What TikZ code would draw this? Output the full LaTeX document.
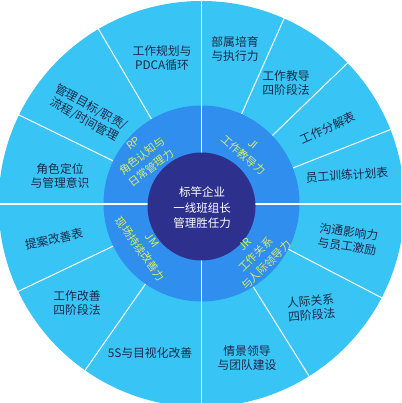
\documentclass[tikz,border=0pt]{standalone}
\usepackage{fontspec}
\setmainfont{Noto Sans CJK SC}
\definecolor{outerc}{RGB}{56,197,245}
\definecolor{midc}{RGB}{48,142,238}
\definecolor{darkc}{RGB}{46,48,142}
\definecolor{yel}{RGB}{214,240,92}
\definecolor{navy}{RGB}{28,40,70}
\begin{document}
\begin{tikzpicture}[x=1pt,y=1pt,
  outertext/.style={text=navy, font=\fontsize{11.8}{14.5}\selectfont, align=center, inner sep=0pt},
  ringtext/.style={text=yel, font=\fontsize{10.8}{15}\selectfont, align=center, inner sep=0pt},
  centertext/.style={text=white, font=\fontsize{11.5}{15.5}\selectfont, align=center, inner sep=0pt},
  divider/.style={draw=white, line width=1pt},
  quadline/.style={draw=white, line width=1.5pt}]
\useasboundingbox (0,0) rectangle (401,403);
\coordinate (C) at (201.5,199);
\begin{scope}
\clip (0,0) rectangle (401,403);
\fill[outerc] (C) circle (203);
\foreach \a in {21.5,44,66,120.5,154,205.5,235,302,332.5}
  \draw[divider] (C) -- ++(\a:210);
\fill[midc] (201.5,199.5) circle (98);
\foreach \a in {0,90,180,270}
  \draw[quadline] (C) -- ++(\a:210);
\fill[darkc] (201.5,196.5) circle (54);
\end{scope}
% outer ring texts
\node[outertext] (o1) at (162,345) {工作规划与\\PDCA循环};
\node[outertext, rotate=-29] (o2) at (88,289.5) {管理目标/职责/\\流程/时间管理};
\node[outertext] (o3) at (60,227) {角色定位\\与管理意识};
\node[outertext] (o4) at (235,354) {部属培育\\与执行力};
\node[outertext] (o5) at (286,320) {工作教导\\四阶段法};
\node[outertext, rotate=24] (o6) at (328,275) {工作分解表};
\node[outertext, rotate=4] (o7) at (347,228) {员工训练计划表};
\node[outertext, rotate=12] (o8) at (54,164) {提案改善表};
\node[outertext] (o9) at (77,100) {工作改善\\四阶段法};
\node[outertext] (o10) at (150,50) {5S与目视化改善};
\node[outertext] (o11) at (247,45) {情景领导\\与团队建设};
\node[outertext, rotate=5] (o12) at (311,95) {人际关系\\四阶段法};
\node[outertext, rotate=-8] (o13) at (348,164) {沟通影响力\\与员工激励};
% middle ring texts
\node[ringtext, rotate=37] (rp) at (142.5,247) {RP\\角色认知与\\日常管理力};
\node[ringtext, rotate=-41] (ji) at (248,253) {JI\\工作教导力};
\node[ringtext, rotate=-54] (jm) at (146,158) {JM\\现场持续改善力};
\node[ringtext, rotate=45] (jr) at (256,148) {JR\\工作关系\\与人际领导力};
% centre
\node[centertext] (c) at (202,195) {标竿企业\\一线班组长\\管理胜任力};
\end{tikzpicture}
\end{document}
